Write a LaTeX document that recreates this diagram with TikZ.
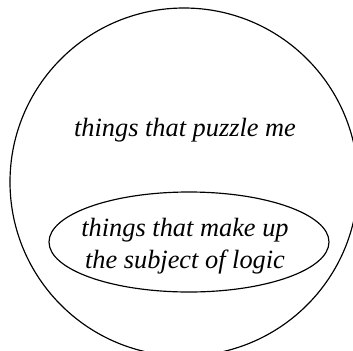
\documentclass[tikz,border=0pt]{standalone}
\usepackage{fontspec}
\setmainfont{Liberation Serif}
\usetikzlibrary{shapes.geometric}

\tikzset{
  label text/.style={font=\fontsize{22.5}{27.3}\selectfont\itshape, align=center, inner sep=0pt}
}

\begin{document}
\begin{tikzpicture}[x=0.03cm,y=-0.03cm]
\useasboundingbox (0,0) rectangle (353,350);
\clip (0,0) rectangle (353,350);
\draw[line width=1pt] (184,182) circle (174);
\node[label text] (puzzle) at (185,130) {things that puzzle me};
\node[draw, line width=1pt, ellipse, minimum width=8.4cm, minimum height=3cm] (logicset) at (189,242) {};
\node[label text] (logic) at (185,246) {things that make up\\the subject of logic};
\end{tikzpicture}
\end{document}
